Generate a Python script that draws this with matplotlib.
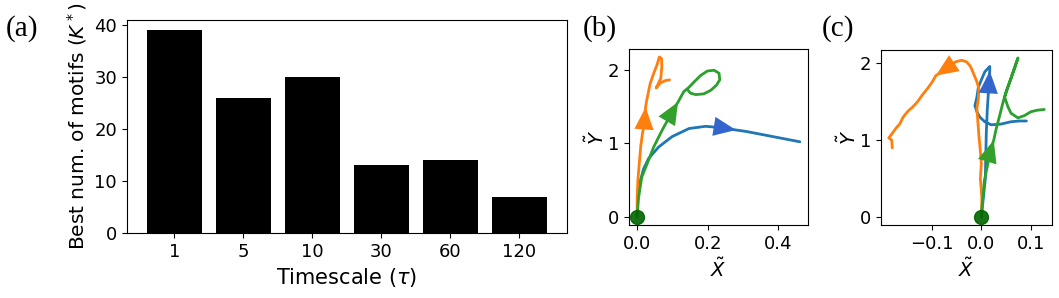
#!/usr/bin/env python3
import matplotlib
matplotlib.use("Agg")
import matplotlib.pyplot as plt

# (a) best number of motifs per timescale
timescales = ["1", "5", "10", "30", "60", "120"]
best_k = [39, 26, 30, 13, 14, 7]

# (b) trajectories
b_blue_x = [0, 0.002, 0.009, 0.018, 0.032, 0.061, 0.099, 0.147, 0.194, 0.242, 0.28, 0.309, 0.385, 0.461]
b_blue_y = [0, 0.31, 0.49, 0.65, 0.79, 0.95, 1.09, 1.20, 1.23, 1.21, 1.18, 1.16, 1.09, 1.02]
b_orange_x = [0, 0.0, 0.002, 0.006, 0.010, 0.015, 0.021, 0.024, 0.027, 0.037, 0.047, 0.056, 0.063,
              0.069, 0.070, 0.067, 0.054, 0.066, 0.080, 0.092]
b_orange_y = [0, 0.26, 0.49, 0.72, 0.95, 1.13, 1.29, 1.49, 1.58, 1.81, 1.95, 2.06, 2.17,
              2.15, 2.04, 1.88, 1.75, 1.82, 1.85, 1.86]
b_green_x = [0, 0.004, 0.013, 0.028, 0.047, 0.070, 0.094, 0.116, 0.132, 0.147, 0.161, 0.180, 0.199,
             0.218, 0.232, 0.234, 0.225, 0.209, 0.189, 0.166, 0.151, 0.142]
b_green_y = [0, 0.26, 0.54, 0.72, 0.95, 1.17, 1.38, 1.56, 1.70, 1.76, 1.83, 1.92, 1.98,
             1.99, 1.95, 1.86, 1.79, 1.72, 1.67, 1.66, 1.68, 1.73]

# (c) trajectories
c_blue_x = [0, 0.004, 0.008, 0.009, 0.010, 0.012, 0.015, 0.017, 0.017, 0.007, 0.001, -0.006, -0.009,
            -0.013, -0.009, -0.003, 0.007, 0.020, 0.040, 0.060, 0.077, 0.091]
c_blue_y = [0, 0.25, 0.50, 0.80, 1.10, 1.40, 1.70, 1.90, 1.96, 1.89, 1.80, 1.69, 1.56,
            1.45, 1.37, 1.30, 1.24, 1.20, 1.21, 1.24, 1.25, 1.25]
c_orange_x = [0, 0.001, -0.002, 0.0, -0.003, -0.005, -0.007, -0.009, -0.006, -0.005, -0.009, -0.016,
              -0.022, -0.030, -0.040, -0.052, -0.062, -0.092, -0.099, -0.109, -0.119, -0.129, -0.139,
              -0.148, -0.158, -0.165, -0.172, -0.181, -0.187, -0.181, -0.180]
c_orange_y = [0, 0.25, 0.50, 0.70, 0.93, 1.06, 1.24, 1.41, 1.54, 1.67, 1.76, 1.87,
              1.96, 2.02, 2.04, 2.02, 1.97, 1.84, 1.76, 1.67, 1.59, 1.50, 1.43,
              1.38, 1.30, 1.21, 1.16, 1.08, 1.03, 1.00, 0.90]
c_green_x = [0, 0.001, 0.006, 0.013, 0.018, 0.025, 0.030, 0.037, 0.044, 0.050, 0.057, 0.064, 0.070,
             0.074, 0.068, 0.060, 0.052, 0.047, 0.054, 0.060, 0.074, 0.087, 0.100, 0.113, 0.127]
c_green_y = [0, 0.10, 0.47, 0.69, 0.85, 1.00, 1.15, 1.32, 1.50, 1.63, 1.76, 1.89, 2.00,
             2.07, 1.95, 1.80, 1.66, 1.56, 1.43, 1.35, 1.29, 1.32, 1.37, 1.39, 1.40]

# index of the arrow tip on each trajectory
b_arrows = {"blue": 10, "orange": 7, "green": 7}
c_arrows = {"blue": 7, "orange": 17, "green": 5}

LINE = {"blue": "#1f77b4", "orange": "#ff7f0e", "green": "#2ca02c"}
HEAD = {"blue": "#3366cc", "orange": "#ff7f0e", "green": "#33a02c"}

W, H = 1059, 298
plt.rcParams.update({"font.size": 13, "font.family": "DejaVu Sans"})


def _rect(left, top, right, bottom):
    return [left / W, 1 - bottom / H, (right - left) / W, (bottom - top) / H]


def _draw_traj(ax, trajs, arrows):
    for name, (xs, ys) in trajs.items():
        ax.plot(xs, ys, color=LINE[name], lw=2, solid_capstyle="round", zorder=2)
    for name, (xs, ys) in trajs.items():
        k = arrows[name]
        ax.annotate(
            "",
            xy=(xs[k], ys[k]),
            xytext=(xs[k - 1], ys[k - 1]),
            arrowprops=dict(arrowstyle="-|>,head_length=0.7,head_width=0.3",
                            mutation_scale=23, lw=0, color=HEAD[name],
                            shrinkA=0, shrinkB=0),
            zorder=3,
        )
    ax.plot([0], [0], "o", color="#006400", ms=10, alpha=0.9, zorder=4)
    ax.set_xlabel(r"$\tilde{X}$", fontsize=14)
    ax.set_ylabel(r"$\tilde{Y}$", fontsize=14, labelpad=0)
    ax.set_yticks([0, 1, 2])


fig = plt.figure(figsize=(W / 100, H / 100), dpi=100)

ax_a = fig.add_axes(_rect(126.7, 20, 566.7, 233))
ax_a.bar(range(len(best_k)), best_k, color="black", width=0.8)
ax_a.set_xticks(range(len(best_k)))
ax_a.set_xticklabels(timescales)
ax_a.set_yticks([0, 10, 20, 30, 40])
ax_a.set_xlabel(r"Timescale ($\tau$)", fontsize=15)
ax_a.set_ylabel(r"Best num. of motifs ($K^*$)", fontsize=14.5)

ax_b = fig.add_axes(_rect(629, 49, 808, 225))
_draw_traj(ax_b, {"blue": (b_blue_x, b_blue_y), "orange": (b_orange_x, b_orange_y),
                  "green": (b_green_x, b_green_y)}, b_arrows)
ax_b.set_xticks([0.0, 0.2, 0.4])

ax_c = fig.add_axes(_rect(881, 50, 1052, 225))
_draw_traj(ax_c, {"blue": (c_blue_x, c_blue_y), "orange": (c_orange_x, c_orange_y),
                  "green": (c_green_x, c_green_y)}, c_arrows)
ax_c.set_xticks([-0.1, 0.0, 0.1])

for label, x in (("(a)", 6), ("(b)", 583), ("(c)", 822)):
    fig.text(x / W, 1 - 29 / H, label, family="Liberation Serif", fontsize=21,
             ha="left", va="center")

fig.savefig("out.png", dpi=100)
